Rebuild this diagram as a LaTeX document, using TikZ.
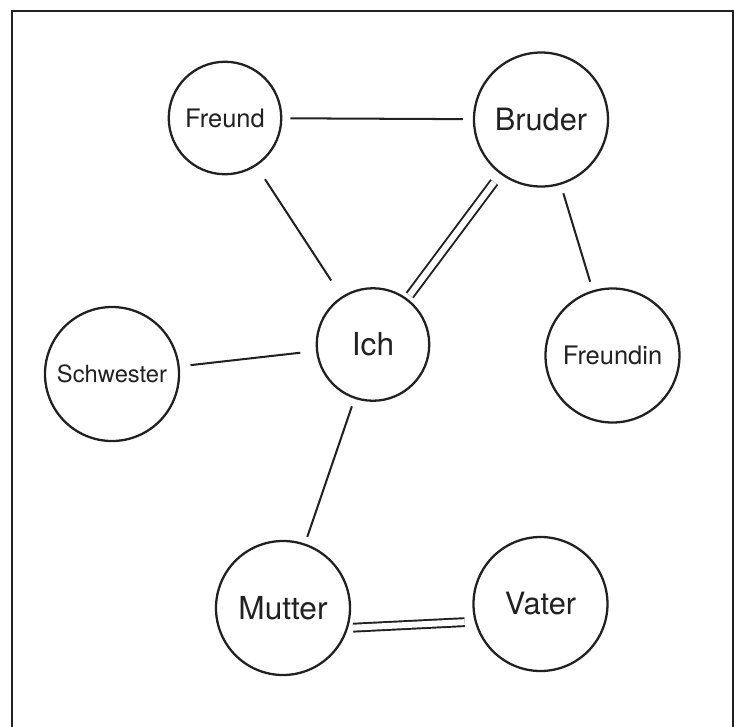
\documentclass[tikz,border=0pt]{standalone}
\usepackage{fontspec}
\setmainfont{TeX Gyre Heros}
\definecolor{ink}{gray}{0.13}
\begin{document}
\begin{tikzpicture}[
  person/.style={draw=ink, text=ink, circle, line width=1.3pt, inner sep=0pt, minimum size=2.68cm},
  smallcirc/.style={minimum size=2.25cm},
  bigtext/.style={font=\fontsize{18}{20}\selectfont},
  smalltext/.style={font=\fontsize{14.5}{16}\selectfont},
  link/.style={draw=ink, line width=1.15pt},
  twin/.style={draw=ink, line width=1.1pt, double, double distance=3.4pt}
]
\useasboundingbox (0,0) rectangle (14.68,-14.54);
\draw[ink, line width=1.2pt] (0.24,-14.54) -- (0.24,-0.22) -- (14.66,-0.22) -- (14.66,-14.54);

\node[person, smallcirc, smalltext] (freund) at (4.50,-2.36) {Freund};
\node[person, font=\fontsize{17.5}{20}\selectfont] (bruder) at (10.82,-2.39) {Bruder};
\node[person, smallcirc, bigtext] (ich) at (7.46,-6.89) {Ich};
\node[person, font=\fontsize{13.5}{15}\selectfont] (schwester) at (2.24,-7.48) {Schwester};
\node[person, smalltext] (freundin) at (12.25,-7.11) {Freundin};
\node[person, bigtext] (mutter) at (5.66,-12.16) {Mutter};
\node[person, font=\fontsize{17.5}{20}\selectfont] (vater) at (10.81,-12.08) {Vater};

\path[link,shorten <=4.5pt,shorten >=5.7pt] (freund) -- (bruder);
\path[link,shorten <=9pt,shorten >=10.8pt] (freund) -- (ich);
\path[twin,shorten <=5.7pt,shorten >=2.3pt] (bruder) -- (ich);
\path[link,shorten <=5.1pt,shorten >=5.1pt] (bruder) -- (freundin);
\path[link,shorten <=6.2pt,shorten >=9pt] (schwester) -- (ich);
\path[link,shorten <=4.5pt,shorten >=4pt] (ich) -- (mutter);
\path[twin,shorten <=2.8pt,shorten >=5.7pt] (mutter.-17) -- (vater.-165);
\end{tikzpicture}
\end{document}
